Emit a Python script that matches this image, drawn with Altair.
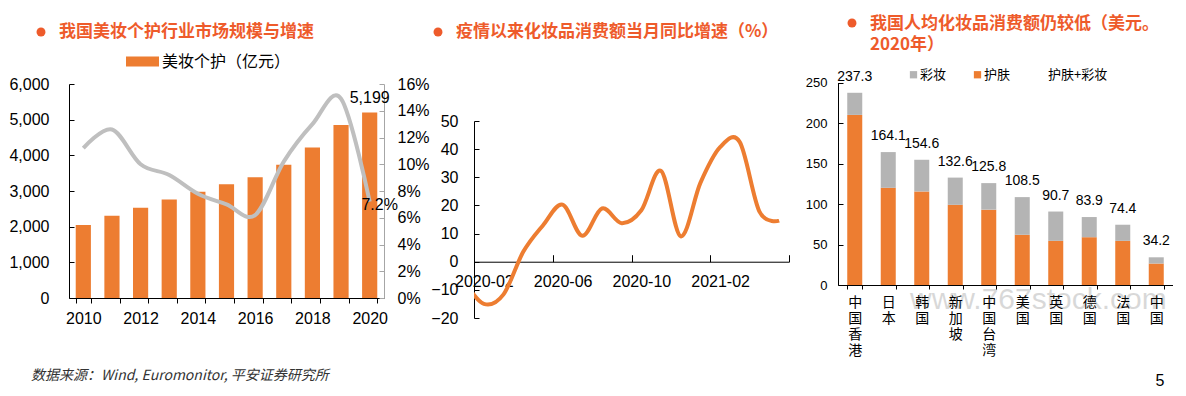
import altair as alt
import pandas as pd

NUM = "Liberation Sans, Arial, sans-serif"
CJK = "Noto Sans CJK SC, sans-serif"
ORANGE = "#ED7D31"
GRAY = "#B4B4B4"
LINEGRAY = "#BFBFBF"
TC = "#EE5B2B"

# ---------------- Panel 1 data ----------------
years = ["2010", "2011", "2012", "2013", "2014", "2015", "2016", "2017", "2018", "2019", "2020"]
market = [2047, 2305, 2531, 2764, 2980, 3188, 3389, 3735, 4217, 4850, 5199]
growth = [11.2, 12.6, 10.0, 9.2, 7.8, 7.0, 6.2, 10.2, 13.0, 14.9, 7.2]
series1 = "美妆个护（亿元）"
title1 = "我国美妆个护行业市场规模与增速"

# ---------------- Panel 2 data ----------------
months = ["2020-01", "2020-02", "2020-03", "2020-04", "2020-05", "2020-06", "2020-07", "2020-08",
          "2020-09", "2020-10", "2020-11", "2020-12", "2021-01", "2021-02", "2021-03", "2021-04", "2021-05"]
yoy = [-7.0, -15.0, -11.6, 3.5, 12.9, 20.3, 9.2, 18.9, 13.7, 18.3, 32.3, 9.0, 28.0, 40.7, 42.5, 17.8, 14.6]
month_labels = ["2020-02", "2020-06", "2020-10", "2021-02"]
title2 = "疫情以来化妆品消费额当月同比增速（%）"

# ---------------- Panel 3 data ----------------
countries = ["中国香港", "日本", "韩国", "新加坡", "中国台湾", "美国", "英国", "德国", "法国", "中国"]
total = [237.3, 164.1, 154.6, 132.6, 125.8, 108.5, 90.7, 83.9, 74.4, 34.2]
skincare = [210.0, 120.0, 115.5, 99.0, 93.0, 62.0, 54.5, 59.0, 54.5, 26.5]
makeup = [27.3, 44.1, 39.1, 33.6, 32.8, 46.5, 36.2, 24.9, 19.9, 7.7]
parts = ["彩妆", "护肤", "护肤+彩妆"]
title3a = "我国人均化妆品消费额仍较低（美元。"
title3b = "2020年）"

footer = "数据来源：Wind, Euromonitor, 平安证券研究所"
page_no = "5"
watermark = "www.767stock.com"


def label_chart(text):
    return alt.Chart(pd.DataFrame({"t": [text]}))


def dot(x, y):
    return label_chart("●").mark_circle(size=80, color=TC, opacity=1).encode(
        x=alt.value(x), y=alt.value(y))


def title_text(text, x, y):
    return label_chart(text).mark_text(
        align="left", baseline="middle", font=CJK, fontSize=17, fontWeight="bold", color=TC
    ).encode(x=alt.value(x), y=alt.value(y), text="t:N")


def inner_ticks(df, xenc, field, scale, values, orient, offset, color="black"):
    """Invisible layer that only draws inward-pointing tick marks of a y scale."""
    return alt.Chart(df).mark_point(opacity=0).encode(
        x=xenc,
        y=alt.Y(field, scale=scale,
                axis=alt.Axis(title=None, orient=orient, offset=offset, values=values,
                              labels=False, domain=False, ticks=True, tickSize=5,
                              tickColor=color, grid=False)))


# ================= Panel 1 =================
W1, H1 = 315, 290
df1 = pd.DataFrame({"year": years, "market": market, "growth": growth, "series": series1})

x1 = alt.X("year:O", sort=years,
           scale=alt.Scale(paddingInner=0.47, paddingOuter=0.235),
           axis=alt.Axis(title=None, labelAngle=0, tickBand="extent", tickSize=5,
                         tickColor="black", domainColor="black",
                         labelExpr="toNumber(datum.value) % 2 == 0 ? datum.label : ''",
                         labelFont=NUM, labelFontSize=16, labelColor="black", labelPadding=7))

yscale1 = alt.Scale(domain=[0, 6000], range=[290, 76], nice=False, zero=True)
yvals1 = list(range(0, 6001, 1000))
yaxis1 = alt.Axis(title=None, values=yvals1,
                  labelExpr="format(datum.value, ',')", ticks=False,
                  labelPadding=20, domainColor="black", labelFont=NUM, labelFontSize=16,
                  labelColor="black", grid=False)
yscale1r = alt.Scale(domain=[0, 16], range=[290, 76], nice=False, zero=True)
yvals1r = list(range(0, 17, 2))
yaxis1r = alt.Axis(title=None, orient="right", values=yvals1r,
                   labelExpr="datum.value + '%'", ticks=False, labelPadding=13,
                   domainColor="#A6A6A6", labelFont=NUM, labelFontSize=16,
                   labelColor="black", grid=False)

path_rect = "M-1,-0.3L1,-0.3L1,0.3L-1,0.3Z"
bars1 = alt.Chart(df1).mark_bar().encode(
    x=x1,
    y=alt.Y("market:Q", scale=yscale1, axis=yaxis1),
    color=alt.Color("series:N", scale=alt.Scale(domain=[series1], range=[ORANGE]),
                    legend=alt.Legend(orient="none", legendX=57, legendY=37, title=None,
                                      symbolType=path_rect, symbolSize=1089,
                                      symbolStrokeWidth=0, labelFont=CJK, labelFontSize=16,
                                      labelColor="black", labelOffset=3, padding=0)),
)
barlab1 = alt.Chart(df1[df1["year"] == "2020"]).mark_text(
    baseline="middle", dy=-15, font=NUM, fontSize=16, color="black"
).encode(x=x1, y=alt.Y("market:Q", scale=yscale1, axis=yaxis1),
         text=alt.Text("market:Q", format=","))

line1 = alt.Chart(df1).mark_line(color=LINEGRAY, strokeWidth=4, interpolate="cardinal").encode(
    x=x1, y=alt.Y("growth:Q", scale=yscale1r, axis=yaxis1r))
linelab1 = alt.Chart(df1[df1["year"] == "2020"]).transform_calculate(
    lab="format(datum.growth, '.1f') + '%'"
).mark_text(
    baseline="middle", dx=10, dy=3, font=NUM, fontSize=16, color="black"
).encode(x=x1, y=alt.Y("growth:Q", scale=yscale1r, axis=yaxis1r), text="lab:N")

foot = label_chart(footer).mark_text(
    align="left", baseline="middle", font=CJK, fontSize=14, fontStyle="italic", color="#333333"
).encode(x=alt.value(-38), y=alt.value(368), text="t:N")

p1 = alt.layer(
    alt.layer(bars1, barlab1),
    alt.layer(line1, linelab1),
    inner_ticks(df1, x1, "market:Q", yscale1, yvals1, "right", -W1),
    inner_ticks(df1, x1, "growth:Q", yscale1r, yvals1r, "left", -W1, "#A6A6A6"),
    dot(-28, 24), title_text(title1, -10, 24), foot,
).resolve_scale(y="independent").properties(width=W1, height=H1)

# ================= Panel 2 =================
W2, H2 = 331, 310
df2 = pd.DataFrame({"i": list(range(-1, len(months) - 1)), "month": months, "yoy": yoy})
xscale2 = alt.Scale(domain=[-0.5, 15.5], range=[0, 315], nice=False, zero=False)
yscale2 = alt.Scale(domain=[-20, 50], range=[310, 113], nice=False, zero=False)
yvals2 = list(range(-20, 51, 10))
zero_px = 310 - 20 * (310 - 113) / 70.0
lab_expr = "[" + ",".join("'%s'" % m for m in month_labels) + "][round(datum.value / 4)]"

line2 = alt.Chart(df2).mark_line(color=ORANGE, strokeWidth=4, interpolate="cardinal", clip=True).encode(
    x=alt.X("i:Q", scale=xscale2,
            axis=alt.Axis(title=None, values=[0, 4, 8, 12], labelExpr=lab_expr, ticks=False,
                          tickSize=0, domainColor="black", offset=-(310 - zero_px),
                          labelPadding=12, labelFont=NUM, labelFontSize=16,
                          labelColor="black", grid=False)),
    y=alt.Y("yoy:Q", scale=yscale2,
            axis=alt.Axis(title=None, values=yvals2, ticks=False,
                          labelPadding=16, domainColor="black", labelFont=NUM,
                          labelFontSize=16, labelColor="black", grid=False)),
)
ticks2 = alt.Chart(df2).mark_line(opacity=0, clip=True).encode(
    x=alt.X("i:Q", scale=xscale2,
            axis=alt.Axis(title=None, orient="top", values=[-0.5, 3.5, 7.5, 11.5, 15.5],
                          labels=False, ticks=True, tickSize=7, tickColor="black",
                          domain=False, offset=-zero_px, grid=False)),
    y=alt.Y("yoy:Q", scale=yscale2, axis=None),
)
yticks2 = alt.Chart(df2).mark_line(opacity=0, clip=True).encode(
    x=alt.X("i:Q", scale=xscale2, axis=None),
    y=alt.Y("yoy:Q", scale=yscale2,
            axis=alt.Axis(title=None, orient="right", offset=-W2, values=yvals2,
                          labels=False, domain=False, ticks=True, tickSize=5,
                          tickColor="black", grid=False)),
)
p2 = alt.layer(
    line2, ticks2, yticks2,
    dot(-36, 24), title_text(title2, -18, 24)
).resolve_scale(x="independent", y="independent").properties(width=W2, height=H2)

# ================= Panel 3 =================
W3, H3 = 335, 277
rows = []
for c, s, m in zip(countries, skincare, makeup):
    rows.append({"country": c, "part": parts[1], "v": s, "ord": 0})
    rows.append({"country": c, "part": parts[0], "v": m, "ord": 1})
df3 = pd.DataFrame(rows)
df3t = pd.DataFrame({"country": countries, "total": total})

x3 = alt.X("country:N", sort=countries,
           scale=alt.Scale(paddingInner=0.552, paddingOuter=0.276),
           axis=alt.Axis(title=None, labelAngle=0, labelExpr="split(datum.label, '')",
                         labelFont=CJK, labelFontSize=14, labelLineHeight=16,
                         labelBaseline="top", tickBand="extent", tickSize=4,
                         tickColor="black", domainColor="black", labelPadding=6,
                         labelColor="black"))
yscale3 = alt.Scale(domain=[0, 250], range=[277, 74.5], nice=False, zero=True)
yvals3 = list(range(0, 251, 50))
yaxis3 = alt.Axis(title=None, values=yvals3, ticks=False, labelPadding=11,
                  domainColor="black", labelFont=NUM, labelFontSize=13, labelColor="black",
                  grid=False)

bars3 = alt.Chart(df3).mark_bar().encode(
    x=x3,
    y=alt.Y("v:Q", stack="zero", scale=yscale3, axis=yaxis3),
    color=alt.Color("part:N",
                    scale=alt.Scale(domain=parts, range=[GRAY, ORANGE, "rgba(0,0,0,0)"]),
                    legend=alt.Legend(orient="none", legendX=69, legendY=60, title=None,
                                      direction="horizontal", symbolType="square",
                                      symbolSize=53, symbolStrokeWidth=0, labelFont=CJK,
                                      labelFontSize=13, labelColor="black", labelOffset=0,
                                      columnPadding=24, padding=0)),
    order=alt.Order("ord:Q"),
)
tot3 = alt.Chart(df3t).mark_text(
    baseline="alphabetic", dy=-12, font=NUM, fontSize=14, color="black"
).encode(x=x3, y=alt.Y("total:Q", scale=yscale3, axis=yaxis3),
         text=alt.Text("total:Q", format=".1f"))

wm = label_chart(watermark).mark_text(
    align="left", baseline="middle", font=NUM, fontSize=30, color="black", opacity=0.15
).encode(x=alt.value(72), y=alt.value(292), text="t:N")
pg = label_chart(page_no).mark_text(
    align="center", baseline="middle", font=NUM, fontSize=16, color="black"
).encode(x=alt.value(322), y=alt.value(373), text="t:N")

p3 = alt.layer(
    alt.layer(bars3, tot3),
    inner_ticks(df3t, x3, "total:Q", yscale3, yvals3, "right", -W3),
    dot(14, 15), title_text(title3a, 32, 16), title_text(title3b, 32, 37), wm, pg
).resolve_scale(y="independent").properties(width=W3, height=H3)

chart = alt.hconcat(p1, p2, p3, spacing=0, padding=0).resolve_scale(
    color="independent").resolve_legend(color="independent").configure_view(stroke=None)

chart.save("out.html", embed_options={"renderer": "svg", "actions": False})
